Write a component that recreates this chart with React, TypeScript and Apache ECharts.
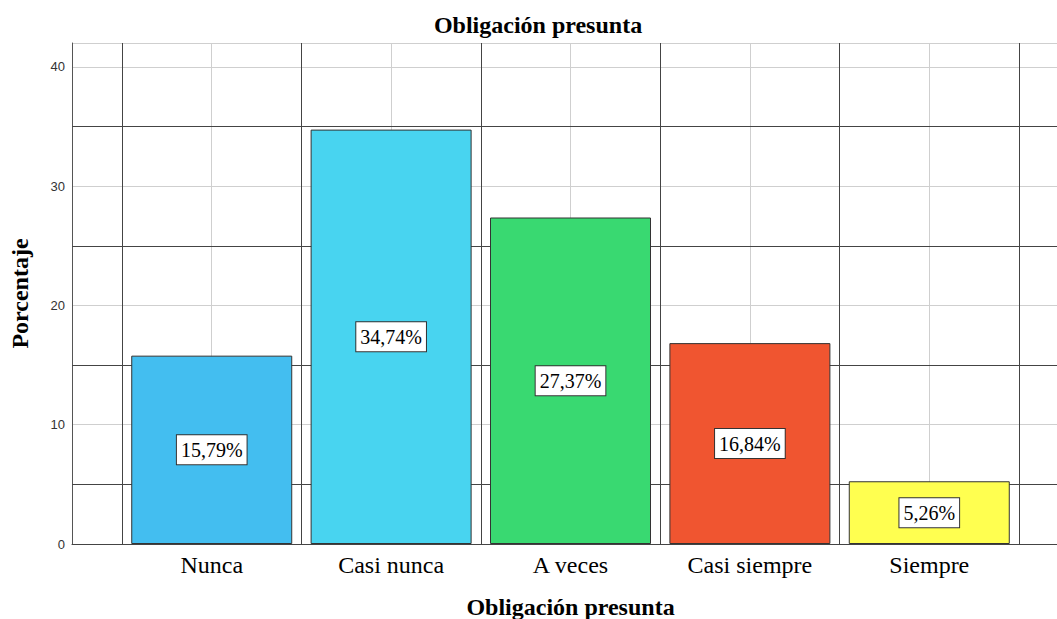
import React, { useEffect, useRef } from "react";
import * as echarts from "echarts";

const categories = ["Nunca", "Casi nunca", "A veces", "Casi siempre", "Siempre"];
const percentages = [15.79, 34.74, 27.37, 16.84, 5.26];
const barColors = ["#43bef0", "#48d4f0", "#39d971", "#f05530", "#ffff50"];
const yTicks = [0, 10, 20, 30, 40];
const darkHLines = [5, 15, 25, 35];
const darkVLines = [-0.5, 0.5, 1.5, 2.5, 3.5, 4.5];
const lightVLines = [0, 1, 2, 3, 4];

const SERIF = "'Liberation Serif', 'Times New Roman', serif";
const SANS = "'Liberation Sans', Arial, sans-serif";

export default function App() {
  const ref = useRef<HTMLDivElement>(null);
  useEffect(() => {
    if (!ref.current) return;
    const chart = echarts.init(ref.current, null, { renderer: "svg" });
    const dark = { color: "#444", width: 1, type: "solid" as const };
    const light = { color: "#cfcfcf", width: 1, type: "solid" as const };
    chart.setOption({
      animation: false,
      backgroundColor: "#fff",
      title: {
        text: "Obligación presunta",
        left: 533,
        textAlign: "center",
        top: 8,
        textStyle: { fontFamily: SERIF, fontWeight: "bold", fontSize: 24, color: "#000" },
      },
      grid: { left: 72, right: 0, top: 43, bottom: 75, containLabel: false, outerBoundsMode: "none" },
      xAxis: {
        type: "value",
        min: -0.779,
        max: 4.712,
        name: "Obligación presunta",
        nameLocation: "middle",
        nameGap: 51,
        nameTextStyle: { fontFamily: SERIF, fontWeight: "bold", fontSize: 24, color: "#000", padding: [0, 0, 0, 12] },
        axisLine: { show: true, onZero: false, lineStyle: { color: "#444", width: 1 } },
        axisTick: { show: false },
        splitLine: { show: false },
        axisLabel: {
          customValues: lightVLines,
          formatter: (v: number) => categories[Math.round(v)] ?? "",
          fontFamily: SERIF,
          fontSize: 24,
          color: "#000",
          margin: 9,
        },
      },
      yAxis: {
        type: "value",
        min: 0,
        max: 42,
        interval: 10,
        name: "Porcentaje",
        nameLocation: "middle",
        nameGap: 40,
        nameTextStyle: { fontFamily: SERIF, fontWeight: "bold", fontSize: 24, color: "#000" },
        axisLine: { show: true, onZero: false, lineStyle: { color: "#555", width: 1 } },
        axisTick: { show: false },
        axisLabel: {
          customValues: yTicks,
          fontFamily: SANS,
          fontSize: 13,
          color: "#333",
          margin: 7,
        },
        splitLine: { show: true, lineStyle: light },
      },
      series: [
        {
          type: "bar",
          z: 2,
          barWidth: 161,
          data: percentages.map((v, i) => ({
            value: [i, v],
            itemStyle: { color: barColors[i], borderColor: "#333", borderWidth: 1 },
          })),
          label: {
            show: true,
            position: "inside",
            formatter: (p: any) => p.value[1].toFixed(2).replace(".", ",") + "%",
            fontFamily: SERIF,
            fontSize: 20,
            color: "#000",
            backgroundColor: "#fff",
            borderColor: "#333",
            borderWidth: 1,
            padding: [5, 4, 4, 4],
          },
          markLine: {
            silent: true,
            z: 1,
            symbol: ["none", "none"],
            label: { show: false },
            data: [
              ...lightVLines.map((x) => ({ xAxis: x, lineStyle: light })),
              ...darkHLines.map((y) => ({ yAxis: y, lineStyle: dark })),
              ...darkVLines.map((x) => ({ xAxis: x, lineStyle: dark })),
            ],
          },
        },
      ],
    });
    return () => chart.dispose();
  }, []);
  return (
    <div
      ref={ref}
      style={{ position: "absolute", left: 0, top: 0, width: 1057, height: 619, background: "#fff" }}
    />
  );
}
